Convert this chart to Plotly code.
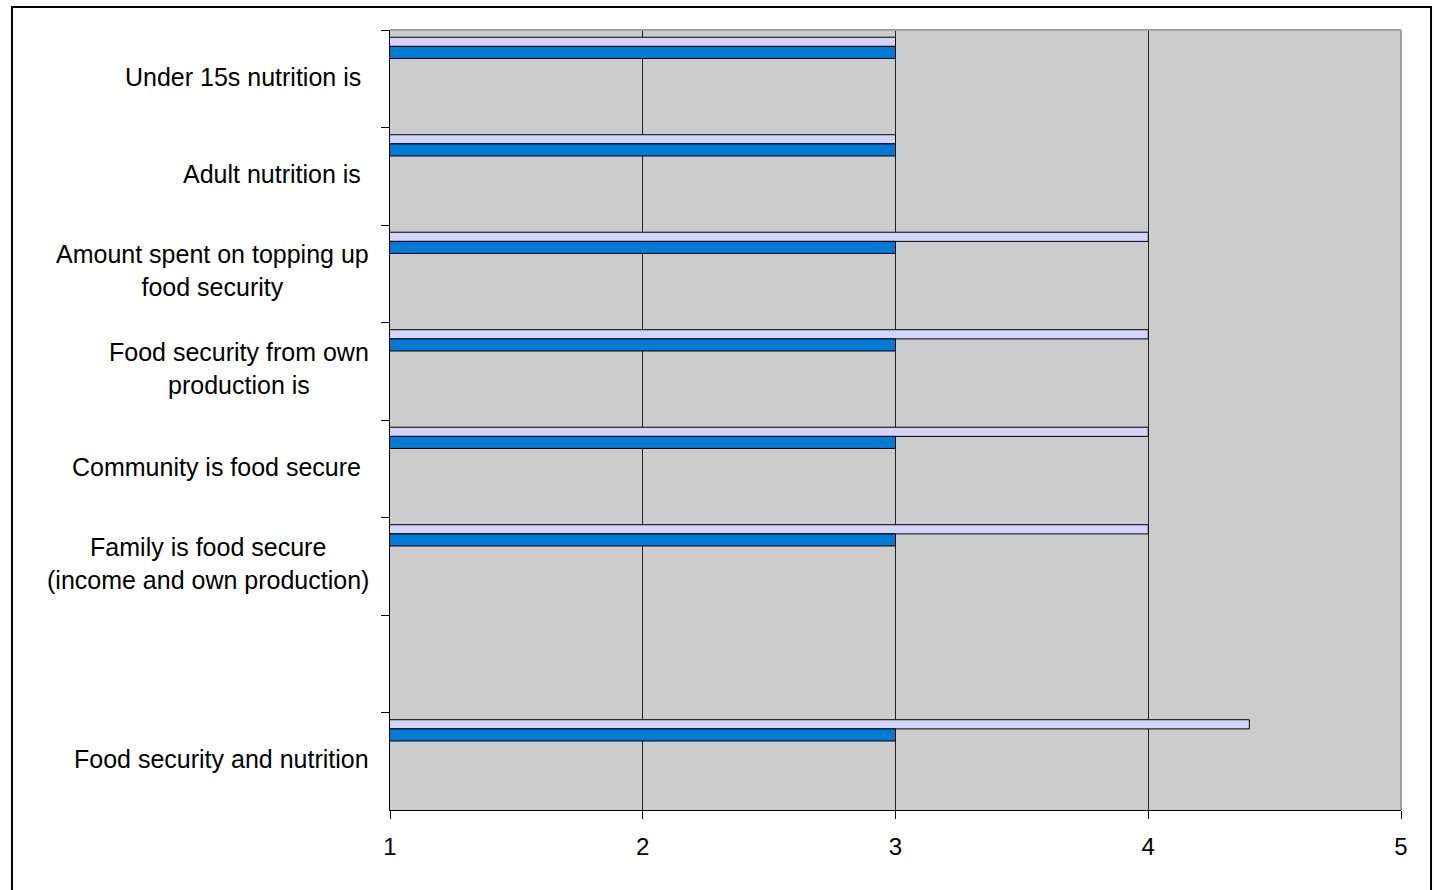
import plotly.graph_objects as go

# ---- data ----
categories = [
    "Under 15s nutrition is",
    "Adult nutrition is",
    "Amount spent on topping up<br>food security",
    "Food security from own<br>production is",
    "Community is food secure",
    "Family is food secure<br>(income and own production)",
    " ",
    "Food security and nutrition",
]
series_light = [3, 3, 4, 4, 4, 4, None, 4.4]
series_blue = [3, 3, 3, 3, 3, 3, None, 3]
x_ticks = [1, 2, 3, 4, 5]

FONT = "Liberation Sans, Arial, sans-serif"

fig = go.Figure()
fig.add_trace(go.Bar(
    y=categories, x=series_light, orientation="h",
    offset=-0.426, width=0.094,
    marker=dict(color="#D5D5FC", line=dict(color="#000000", width=1)),
    showlegend=False, hoverinfo="x+y",
))
fig.add_trace(go.Bar(
    y=categories, x=series_blue, orientation="h",
    offset=-0.332, width=0.124,
    marker=dict(color="#007AD7", line=dict(color="#000000", width=1)),
    showlegend=False, hoverinfo="x+y",
))

# category labels as centred (multi-line) annotations
short_single = {"Under 15s nutrition is", "Adult nutrition is", "Community is food secure"}
for c in categories:
    if not c.strip():
        continue
    multi = "<br>" in c
    fig.add_annotation(
        x=0, xref="paper", y=c, yref="y",
        xanchor="right", yanchor="middle", align="center",
        xshift=-27 if c in short_single else -19,
        yshift=3 if multi else 2,
        text=c, showarrow=False,
        font=dict(family=FONT, size=25, color="#000000"),
    )

# plot-area top/right border (grey) and outer frame (black)
fig.add_shape(type="line", xref="paper", yref="paper", x0=0, x1=1, y0=1, y1=1,
              line=dict(color="#A0A0A0", width=2), layer="above")
fig.add_shape(type="line", xref="paper", yref="paper", x0=1, x1=1, y0=0, y1=1,
              line=dict(color="#A0A0A0", width=2), layer="above")
fig.add_shape(type="rect", xref="paper", yref="paper",
              x0=-0.3739, x1=1.0297, y0=-0.11, y1=1.0295,
              line=dict(color="#000000", width=2), layer="above")

fig.update_layout(
    width=1434, height=890,
    margin=dict(l=390, r=33, t=30, b=80),
    paper_bgcolor="#FFFFFF",
    plot_bgcolor="#CCCCCC",
    barmode="overlay",
    font=dict(family=FONT, size=24, color="#000000"),
    xaxis=dict(
        range=[1, 5], tickvals=x_ticks, ticktext=[str(v) for v in x_ticks],
        showgrid=True, gridcolor="#222222", gridwidth=1,
        showline=True, linecolor="#000000", linewidth=1,
        ticks="outside", ticklen=8, tickcolor="#000000",
        ticklabelstandoff=7,
        tickfont=dict(family=FONT, size=24), zeroline=False,
    ),
    yaxis=dict(
        type="category", categoryorder="array", categoryarray=categories,
        autorange="reversed", tickson="boundaries",
        showgrid=False, showticklabels=False,
        showline=True, linecolor="#000000", linewidth=1,
        ticks="outside", ticklen=8, tickcolor="#000000",
        zeroline=False,
    ),
)

fig.write_html("out.html")
